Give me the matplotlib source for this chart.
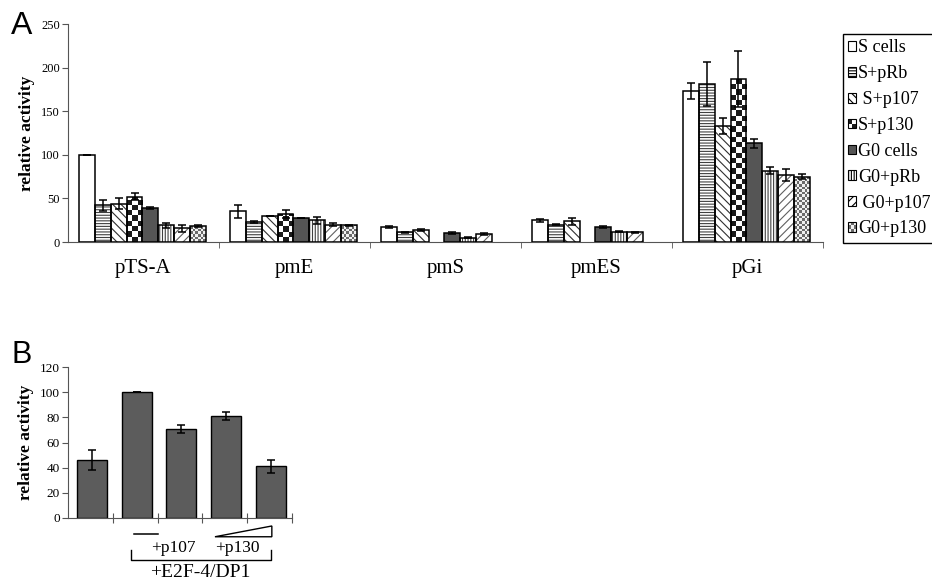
import numpy as np
import matplotlib
matplotlib.use('Agg')
import matplotlib.pyplot as plt
from matplotlib.patches import Rectangle, Polygon, Patch
from matplotlib.colors import ListedColormap
from matplotlib.legend_handler import HandlerBase

nan = np.nan

# panel A
promoters = ['pTS-A', 'pmE', 'pmS', 'pmES', 'pGi']
series = ['S cells', 'S+pRb', ' S+p107', 'S+p130', 'G0 cells', 'G0+pRb', ' G0+p107', 'G0+p130']

s_cells = [100, 35, 17, 25, 173]
s_cells_err = [0, 8, 1, 1.5, 9]
s_prb = [42, 23, 11, 20, 181]
s_prb_err = [6, 1.5, 1, 0.5, 25]
s_p107 = [44, 30, 14, 24, 133]
s_p107_err = [6, 0, 1, 4, 9]
s_p130 = [52, 32, nan, nan, 187]
s_p130_err = [4, 5, nan, nan, 32]
g0_cells = [39, 27, 10.7, 17, 113]
g0_cells_err = [1, 0, 1, 1, 5]
g0_prb = [19, 25, 5, 12, 82]
g0_prb_err = [3, 4, 0.5, 1, 4]
g0_p107 = [16, 20, 9, 11, 77]
g0_p107_err = [4, 1.5, 1, 1, 7]
g0_p130 = [18, 19, nan, nan, 75]
g0_p130_err = [1, 1, nan, nan, 3]

values = [s_cells, s_prb, s_p107, s_p130, g0_cells, g0_prb, g0_p107, g0_p130]
errors = [s_cells_err, s_prb_err, s_p107_err, s_p130_err,
          g0_cells_err, g0_prb_err, g0_p107_err, g0_p130_err]

# panel B
b_values = [46, 100, 71, 81, 41]
b_err = [8, 0, 3, 3, 5]

# face colour, hatch, hatch colour, checker (nx, square height, dark, light)
styles = [
    ('white', None, 'black', None),
    ('white', '------', '#404040', None),
    ('white', '\\\\\\\\', '#303030', None),
    ('none', None, 'black', (3, 6.0, '#1a1a1a', 'white')),
    ('#555555', None, 'black', None),
    ('white', '||||||', '#404040', None),
    ('white', '////', '#606060', None),
    ('none', None, 'black', (6, 3.0, '#6a6a6a', '#f0f0f0')),
]

plt.rcParams['font.family'] = 'Liberation Serif'
plt.rcParams['hatch.linewidth'] = 0.8


def checker_fill(ax, bars, nx, sq_h, dark, light):
    cmap = ListedColormap([light, dark])
    for bar in bars:
        h = bar.get_height()
        if not np.isfinite(h):
            continue
        x0 = bar.get_x()
        w = bar.get_width()
        ny = int(np.ceil(h / sq_h))
        jj, ii = np.indices((ny, nx))
        board = (ii + jj) % 2
        im = ax.imshow(board, extent=(x0, x0 + w, 0, ny * sq_h), origin='lower',
                       cmap=cmap, vmin=0, vmax=1, interpolation='nearest',
                       aspect='auto', zorder=1.5)
        im.set_clip_path(bar)


class CheckerHandler(HandlerBase):
    def __init__(self, n, dark, light):
        super().__init__()
        self.n = n
        self.dark = dark
        self.light = light

    def create_artists(self, legend, orig_handle, xdescent, ydescent,
                       width, height, fontsize, trans):
        arts = []
        cw = width / self.n
        ch = height / self.n
        for i in range(self.n):
            for j in range(self.n):
                c = self.dark if (i + j) % 2 else self.light
                arts.append(Rectangle((-xdescent + i * cw, -ydescent + j * ch), cw, ch,
                                      facecolor=c, edgecolor='none', transform=trans))
        arts.append(Rectangle((-xdescent, -ydescent), width, height, fill=False,
                              edgecolor='black', lw=0.8, transform=trans))
        return arts


fig = plt.figure(figsize=(9.32, 5.84), dpi=100)

# ---------------- panel A
axA = fig.add_axes([0.073, 0.5856, 0.810, 0.3733])
xc = np.arange(len(promoters))
start = 0.073
bw = 0.105
handles = []
hmap = {}
for k, (vals, errs, st) in enumerate(zip(values, errors, styles)):
    face, hatch, hcol, chk = st
    x = xc + start + bw * (k + 0.5)
    fillbars = axA.bar(x, vals, bw, color=face, edgecolor=hcol, hatch=hatch,
                       linewidth=0, zorder=1)
    axA.bar(x, vals, bw, fill=False, edgecolor='black', linewidth=1.1, zorder=3)
    axA.errorbar(x, vals, yerr=errs, fmt='none', ecolor='black', elinewidth=1.1,
                 capsize=3, capthick=1.1, zorder=4)
    if chk is not None:
        checker_fill(axA, fillbars, *chk)
        hnd = Patch(facecolor='white', label=series[k])
        hmap[hnd] = CheckerHandler(2 if chk[0] == 3 else 3, chk[2], chk[3])
    else:
        hnd = Patch(facecolor=face, edgecolor='black', hatch=hatch, lw=0.8,
                    label=series[k])
    handles.append(hnd)

axA.set_xlim(0, 5)
axA.set_ylim(0, 250)
axA.set_yticks([0, 50, 100, 150, 200, 250])
axA.set_xticks(xc + 0.5)
axA.set_xticklabels(promoters, fontsize=15)
axA.set_xticks(np.arange(1, 6), minor=True)
axA.tick_params(axis='x', which='major', length=0, pad=12)
axA.tick_params(axis='x', which='minor', length=4, direction='out', color='#555555')
axA.tick_params(axis='y', length=4, direction='out', labelsize=9, color='#555555', pad=2)
for s in ['top', 'right']:
    axA.spines[s].set_visible(False)
for s in ['left', 'bottom']:
    axA.spines[s].set_color('#555555')
axA.set_ylabel('relative activity', fontsize=12.5, fontweight='bold', labelpad=4)

fig.legend(handles=handles, handler_map=hmap, loc='upper left',
           bbox_to_anchor=(842.7 / 932, 1 - 34 / 584), bbox_transform=fig.transFigure,
           borderaxespad=0, fontsize=13, frameon=True, fancybox=False,
           edgecolor='black', framealpha=1, handlelength=0.45, handleheight=0.45,
           handletextpad=0.1, labelspacing=0.49, borderpad=0.3)

fig.text(11 / 932, 1 - 33.5 / 584, 'A', family='Liberation Sans', fontsize=23,
         ha='left', va='baseline')

# ---------------- panel B
axB = fig.add_axes([0.073, 0.1135, 0.2403, 0.2575])
xb = np.arange(len(b_values)) + 0.53
axB.bar(xb, b_values, 0.67, color='#5c5c5c', edgecolor='black', linewidth=1.0, zorder=2)
axB.errorbar(xb, b_values, yerr=b_err, fmt='none', ecolor='black', elinewidth=1.1,
             capsize=3, capthick=1.1, zorder=4)
axB.set_xlim(0, 5)
axB.set_ylim(0, 120)
axB.set_yticks(np.arange(0, 121, 20))
axB.set_xticks(np.arange(1, 6))
axB.set_xticklabels([])
axB.tick_params(axis='x', length=7, direction='inout', color='#555555')
axB.tick_params(axis='y', length=4, direction='out', labelsize=9.5, color='#555555', pad=2)
for s in ['top', 'right']:
    axB.spines[s].set_visible(False)
for s in ['left', 'bottom']:
    axB.spines[s].set_color('#555555')
axB.set_ylabel('relative activity', fontsize=12.5, fontweight='bold', labelpad=4)

# annotations under panel B
axB.plot([1.47, 2.01], [-13, -13], color='black', lw=1.1, clip_on=False)
axB.add_patch(Polygon([[3.28, -15.2], [4.55, -15.2], [4.55, -6.6]], closed=True,
                      fill=False, edgecolor='black', lw=1.0, clip_on=False))
axB.text(2.34, -24, '+p107', fontsize=12.5, ha='center', va='center')
axB.text(3.78, -24, '+p130', fontsize=12.5, ha='center', va='center')
axB.plot([1.41, 1.41, 4.53, 4.53], [-26, -34, -34, -26], color='black', lw=1.0,
         clip_on=False)
axB.text(2.95, -44, '+E2F-4/DP1', fontsize=14, ha='center', va='center')

fig.text(11 / 932, 1 - 363 / 584, 'B', family='Liberation Sans', fontsize=22,
         ha='left', va='baseline')

fig.savefig('out.png', dpi=100)
